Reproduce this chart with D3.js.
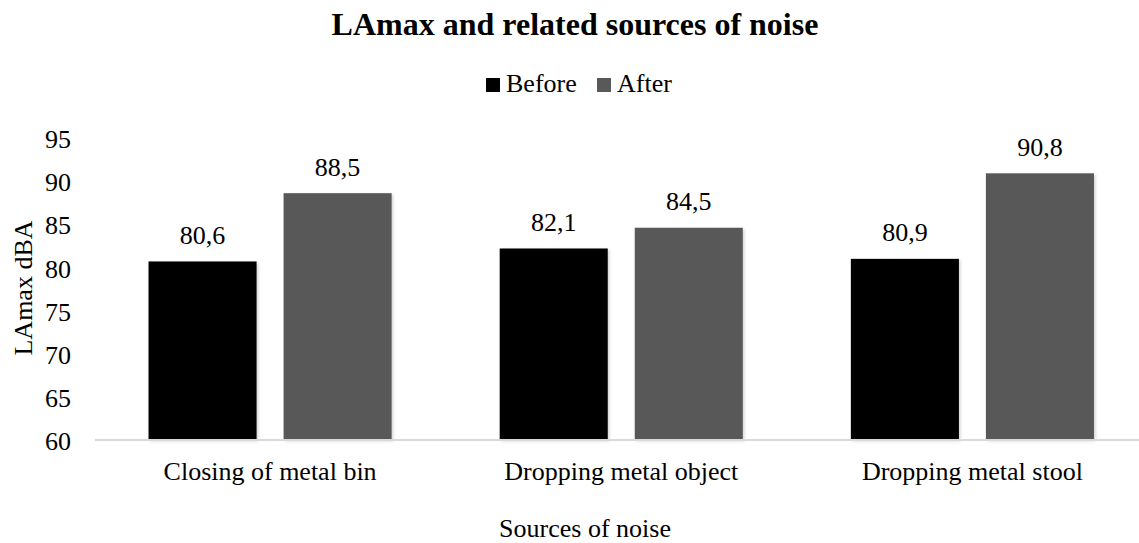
<!DOCTYPE html>
<html>
<head>
<meta charset="utf-8">
<script src="https://cdn.jsdelivr.net/npm/d3@7"></script>
<style>
  html, body { margin: 0; padding: 0; background: #fff; }
  svg { display: block; }
  svg text { font-family: "Liberation Serif", "Times New Roman", serif !important; }
</style>
</head>
<body>
<svg id="chart" width="1139" height="543"></svg>
<script>
// Chart data
const categories = ["Closing of metal bin", "Dropping metal object", "Dropping metal stool"];
const seriesNames = ["Before", "After"];
const beforeValues = [80.6, 82.1, 80.9];
const afterValues = [88.5, 84.5, 90.8];
const yTicks = [60, 65, 70, 75, 80, 85, 90, 95];
const seriesColors = ["#000000", "#595959"];

const svg = d3.select("#chart");
const plot = { left: 94.5, right: 1148, top: 137, bottom: 439.5 };
const serif = "'Liberation Serif', 'Times New Roman', serif";

// Soft drop shadow for bars
const defs = svg.append("defs");
const f = defs.append("filter").attr("id", "barShadow")
  .attr("x", "-10%").attr("y", "-10%").attr("width", "130%").attr("height", "130%");
f.append("feDropShadow").attr("dx", 1.5).attr("dy", 1.5).attr("stdDeviation", 1.5)
  .attr("flood-color", "#000").attr("flood-opacity", 0.18);

const x0 = d3.scaleBand().domain(categories).range([plot.left, plot.right]).paddingInner(0).paddingOuter(0);
const x1 = d3.scaleBand().domain(seriesNames).range([0, x0.bandwidth()]).paddingInner(0.2).paddingOuter(0.4);
const y = d3.scaleLinear().domain([60, 95]).range([plot.bottom, plot.top]);
const color = d3.scaleOrdinal().domain(seriesNames).range(seriesColors);

const rows = categories.map((c, i) => ({
  category: c,
  values: [
    { series: "Before", value: beforeValues[i] },
    { series: "After", value: afterValues[i] }
  ]
}));

// Title
svg.append("text")
  .attr("x", 575).attr("y", 35)
  .attr("text-anchor", "middle")
  .style("font-family", serif)
  .attr("font-size", 32).attr("font-weight", "bold").attr("fill", "#000")
  .text("LAmax and related sources of noise");

// Legend
const legendItems = [
  { name: "Before", x: 486 },
  { name: "After", x: 597 }
];
const legend = svg.append("g");
legendItems.forEach(d => {
  legend.append("rect").attr("x", d.x).attr("y", 78).attr("width", 14).attr("height", 14)
    .attr("fill", color(d.name));
  legend.append("text").attr("x", d.x + 20).attr("y", 92)
    .style("font-family", serif)
    .attr("font-size", 26).attr("fill", "#000").text(d.name);
});

// Y axis labels (no axis line, no gridlines)
const yAxis = d3.axisLeft(y).tickValues(yTicks).tickSize(0).tickPadding(0).tickFormat(d3.format("d"));
const yg = svg.append("g").attr("transform", "translate(71,0)").call(yAxis);
yg.attr("font-family", null);
yg.select(".domain").remove();
yg.selectAll("text")
  .style("font-family", serif)
  .attr("font-size", 26).attr("fill", "#000").attr("dy", "0.4em");

// Bars
const groups = svg.append("g").selectAll("g").data(rows).join("g")
  .attr("transform", d => `translate(${x0(d.category)},0)`);
groups.selectAll("rect").data(d => d.values).join("rect")
  .attr("x", d => x1(d.series))
  .attr("y", d => y(d.value))
  .attr("width", x1.bandwidth())
  .attr("height", d => y(60) - y(d.value))
  .attr("fill", d => color(d.series))
  .attr("filter", "url(#barShadow)");

// Value labels
groups.selectAll("text.val").data(d => d.values).join("text")
  .attr("class", "val")
  .attr("x", d => x1(d.series) + x1.bandwidth() / 2)
  .attr("y", d => y(d.value) - 17.5)
  .attr("text-anchor", "middle")
  .style("font-family", serif)
  .attr("font-size", 26).attr("fill", "#000")
  .text(d => d3.format(".1f")(d.value).replace(".", ","));

// X axis line and category labels
const xAxis = d3.axisBottom(x0).tickSize(0).tickPadding(0);
const xg = svg.append("g").attr("transform", `translate(0,${plot.bottom})`).call(xAxis);
xg.attr("font-family", null);
xg.select(".domain").attr("stroke", "#d9d9d9").attr("stroke-width", 2);
xg.selectAll("text")
  .style("font-family", serif)
  .attr("font-size", 26).attr("fill", "#000").attr("dy", null).attr("y", 40.5);

// Axis titles
svg.append("text")
  .attr("x", 585).attr("y", 537)
  .attr("text-anchor", "middle")
  .style("font-family", serif)
  .attr("font-size", 26).attr("fill", "#000")
  .text("Sources of noise");

svg.append("text")
  .attr("transform", "translate(32,288) rotate(-90)")
  .attr("text-anchor", "middle")
  .style("font-family", serif)
  .attr("font-size", 26).attr("fill", "#000")
  .text("LAmax dBA");
</script>
</body>
</html>
